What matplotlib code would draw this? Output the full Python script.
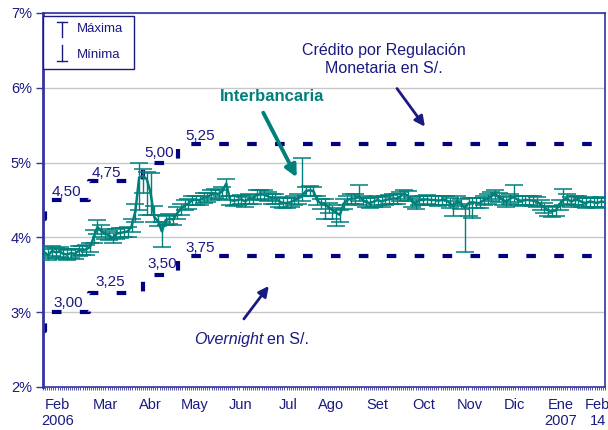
import numpy as np
import matplotlib
matplotlib.use("Agg")
import matplotlib.pyplot as plt
from matplotlib.ticker import MultipleLocator

plt.rcParams["font.family"] = ["Liberation Sans", "DejaVu Sans"]

NAVY = "#1a1a80"
SPINE = "#3434a0"
TEAL = "#00807a"

# dias desde el 1 feb 2006 (eje calendario hasta el 14 feb 2007)
END_DAY = 378

# tasa interbancaria: 12 lecturas por mes (feb 2006 - ene 2007) + 5 en feb 2007
interbank = [
    3.80, 3.76, 3.82, 3.80, 3.81, 3.78, 3.77, 3.79, 3.78, 3.82, 3.83, 3.84,  # feb
    3.87, 4.00, 4.14, 4.08, 4.05, 4.03, 3.99, 4.05, 4.06, 4.07, 4.08, 4.15,  # mar
    4.35, 4.80, 4.82, 4.78, 4.60, 4.27, 4.22, 4.08, 4.23, 4.25, 4.24, 4.32,  # abr
    4.38, 4.43, 4.45, 4.50, 4.50, 4.50, 4.53, 4.54, 4.57, 4.59, 4.58, 4.62,  # may
    4.72, 4.50, 4.49, 4.50, 4.51, 4.48, 4.52, 4.51, 4.57, 4.58, 4.57, 4.55,  # jun
    4.52, 4.52, 4.48, 4.46, 4.46, 4.47, 4.50, 4.52, 4.55, 4.62, 4.63, 4.62,  # jul
    4.50, 4.45, 4.45, 4.40, 4.37, 4.33, 4.30, 4.45, 4.50, 4.52, 4.52, 4.55,  # ago
    4.50, 4.47, 4.46, 4.48, 4.50, 4.48, 4.50, 4.51, 4.52, 4.52, 4.55, 4.58,  # set
    4.56, 4.48, 4.45, 4.50, 4.50, 4.51, 4.50, 4.50, 4.49, 4.50, 4.50, 4.46,  # oct
    4.42, 4.49, 4.45, 4.39, 4.46, 4.47, 4.46, 4.46, 4.50, 4.52, 4.55, 4.58,  # nov
    4.54, 4.50, 4.48, 4.52, 4.54, 4.50, 4.49, 4.50, 4.50, 4.49, 4.48, 4.44,  # dic
    4.40, 4.36, 4.35, 4.36, 4.44, 4.50, 4.52, 4.48, 4.50, 4.50, 4.47, 4.46,  # ene
    4.48, 4.47, 4.46, 4.48, 4.47,                                            # feb
]
maxima = [
    3.87, 3.84, 3.88, 3.86, 3.87, 3.84, 3.83, 3.85, 3.85, 3.88, 3.89, 3.90,
    3.92, 4.10, 4.23, 4.16, 4.11, 4.09, 4.06, 4.11, 4.12, 4.13, 4.14, 4.25,
    4.45, 5.00, 4.92, 4.88, 4.86, 4.42, 4.30, 4.20, 4.29, 4.31, 4.30, 4.40,
    4.45, 4.50, 4.51, 4.56, 4.56, 4.56, 4.59, 4.60, 4.63, 4.65, 4.64, 4.68,
    4.78, 4.56, 4.55, 4.56, 4.57, 4.54, 4.58, 4.57, 4.63, 4.64, 4.63, 4.61,
    4.58, 4.58, 4.54, 4.52, 4.52, 4.53, 4.56, 4.58, 5.06, 4.68, 4.69, 4.68,
    4.56, 4.51, 4.51, 4.46, 4.43, 4.39, 4.36, 4.51, 4.56, 4.58, 4.58, 4.70,
    4.56, 4.53, 4.52, 4.54, 4.56, 4.54, 4.56, 4.57, 4.58, 4.58, 4.61, 4.64,
    4.62, 4.54, 4.51, 4.56, 4.56, 4.57, 4.56, 4.56, 4.55, 4.56, 4.56, 4.52,
    4.48, 4.55, 4.51, 4.45, 4.52, 4.53, 4.52, 4.52, 4.56, 4.58, 4.61, 4.64,
    4.60, 4.56, 4.54, 4.58, 4.70, 4.56, 4.55, 4.56, 4.56, 4.55, 4.54, 4.50,
    4.46, 4.42, 4.41, 4.42, 4.50, 4.65, 4.58, 4.54, 4.56, 4.56, 4.53, 4.52,
    4.54, 4.53, 4.52, 4.54, 4.53,
]
minima = [
    3.72, 3.70, 3.75, 3.73, 3.74, 3.71, 3.70, 3.72, 3.71, 3.75, 3.76, 3.77,
    3.80, 3.92, 4.05, 4.01, 3.98, 3.96, 3.92, 3.98, 3.99, 4.00, 4.01, 4.07,
    4.20, 4.37, 4.60, 4.30, 4.30, 4.20, 4.15, 3.87, 4.16, 4.18, 4.17, 4.24,
    4.30, 4.36, 4.38, 4.43, 4.43, 4.43, 4.46, 4.47, 4.50, 4.52, 4.51, 4.55,
    4.50, 4.43, 4.42, 4.43, 4.44, 4.41, 4.45, 4.44, 4.50, 4.51, 4.50, 4.48,
    4.45, 4.45, 4.41, 4.39, 4.39, 4.40, 4.43, 4.45, 4.48, 4.55, 4.56, 4.55,
    4.43, 4.38, 4.25, 4.33, 4.25, 4.15, 4.20, 4.38, 4.43, 4.45, 4.45, 4.48,
    4.43, 4.40, 4.39, 4.41, 4.43, 4.41, 4.43, 4.44, 4.45, 4.45, 4.48, 4.51,
    4.49, 4.41, 4.38, 4.43, 4.43, 4.44, 4.43, 4.43, 4.42, 4.43, 4.43, 4.39,
    4.28, 4.42, 4.38, 3.80, 4.28, 4.26, 4.39, 4.39, 4.43, 4.45, 4.48, 4.51,
    4.47, 4.43, 4.41, 4.45, 4.47, 4.43, 4.42, 4.43, 4.43, 4.42, 4.41, 4.37,
    4.33, 4.29, 4.27, 4.29, 4.37, 4.43, 4.45, 4.41, 4.43, 4.43, 4.40, 4.39,
    4.41, 4.40, 4.39, 4.41, 4.40,
]

# corredor de tasas del BCRP (escalones)
step_days = [0, 1.5, 31, 67, 91, END_DAY]
credito = [4.25, 4.50, 4.75, 5.00, 5.25, 5.25]
overnight = [2.75, 3.00, 3.25, 3.50, 3.75, 3.75]
credito_lbl = ["4,50", "4,75", "5,00", "5,25"]
overnight_lbl = ["3,00", "3,25", "3,50", "3,75"]
credito_lbl_pos = [(6, 4.61), (33, 4.86), (68, 5.13), (95.5, 5.36)]
overnight_lbl_pos = [(7, 3.12), (35, 3.40), (70, 3.64), (95.5, 3.86)]

month_pos = [10, 41.7, 72, 102, 133, 165, 194, 225, 256, 287, 317, 348, 373]
month_lbl = ["Feb\n2006", "Mar", "Abr", "May", "Jun", "Jul", "Ago", "Set",
             "Oct", "Nov", "Dic", "Ene\n2007", "Feb\n14"]

fig = plt.figure(figsize=(6.08, 4.30), dpi=100)
ax = fig.add_axes([0.0707, 0.10, 0.9243, 0.8698])

x = np.linspace(1, END_DAY, len(interbank))
iv = np.array(interbank)
err = [iv - np.array(minima), np.array(maxima) - iv]
ax.errorbar(x, iv, yerr=err, color=TEAL, ecolor=TEAL, elinewidth=1.0,
            capsize=6.5, capthick=1.1, lw=1.8, zorder=3)

dash = dict(color="#000080", lw=3.0, linestyle=(0, (2.3, 4.4)),
            drawstyle="steps-post", zorder=2)
ax.plot(step_days, credito, **dash)
ax.plot(step_days, overnight, **dash)
for (px, py), t in zip(credito_lbl_pos + overnight_lbl_pos, credito_lbl + overnight_lbl):
    ax.text(px, py, t, color=NAVY, fontsize=11, ha="left", va="center")

# anotaciones
ax.text(229, 6.38, "Crédito por Regulación\nMonetaria en S/.", color=NAVY,
        fontsize=11.5, ha="center", va="center", linespacing=1.3)
ax.annotate("", xy=(258, 5.45), xytext=(237, 6.02),
            arrowprops=dict(arrowstyle="-|>,head_length=0.6,head_width=0.3",
                            color=NAVY, lw=2.0))
ax.text(154, 5.88, "Interbancaria", color=TEAL, fontsize=12,
        fontweight="bold", ha="center", va="center")
ax.annotate("", xy=(171.5, 4.77), xytext=(147.3, 5.70),
            arrowprops=dict(arrowstyle="-|>,head_length=0.7,head_width=0.35",
                            color=TEAL, lw=2.8))
ax.text(148, 2.63, "Overnight", color=NAVY, fontsize=11.5, style="italic",
        ha="right", va="center")
ax.text(150.6, 2.63, "en S/.", color=NAVY, fontsize=11.5, ha="left", va="center")
ax.annotate("", xy=(153, 3.38), xytext=(134, 2.88),
            arrowprops=dict(arrowstyle="-|>,head_length=0.6,head_width=0.3",
                            color=NAVY, lw=2.0))

# leyenda dibujada a mano
T = ax.transAxes
ax.add_patch(plt.Rectangle((0.0, 0.850), 0.162, 0.142, transform=T, fill=True,
                           facecolor="white", edgecolor=NAVY, lw=1.0, zorder=5))
ax.plot([0.0338, 0.0338], [0.936, 0.976], transform=T, color=NAVY, lw=1, zorder=6)
ax.plot([0.0245, 0.0431], [0.976, 0.976], transform=T, color=NAVY, lw=1, zorder=6)
ax.plot([0.0338, 0.0338], [0.872, 0.914], transform=T, color=NAVY, lw=1, zorder=6)
ax.plot([0.0245, 0.0431], [0.872, 0.872], transform=T, color=NAVY, lw=1, zorder=6)
ax.text(0.0605, 0.957, "Máxima", transform=T, color=NAVY, fontsize=9.5,
        va="center", zorder=6)
ax.text(0.0605, 0.888, "Mínima", transform=T, color=NAVY, fontsize=9.5,
        va="center", zorder=6)

ax.set_xlim(0, END_DAY)
ax.set_ylim(2, 7)
ax.set_yticks([2, 3, 4, 5, 6, 7])
ax.set_yticklabels([f"{v}%" for v in range(2, 8)])
ax.yaxis.grid(True, color="#c8c8c8", lw=1.0)
ax.set_axisbelow(True)
ax.set_xticks(month_pos)
ax.set_xticklabels(month_lbl, linespacing=1.15)
ax.xaxis.set_minor_locator(MultipleLocator(1.4))
ax.tick_params(axis="x", which="major", length=0, pad=8, colors=NAVY, labelsize=10.5)
ax.tick_params(axis="x", which="minor", length=2, width=0.6, color=SPINE)
ax.tick_params(axis="y", length=5, width=1, color=SPINE, labelcolor=NAVY,
               labelsize=10.5, pad=3)
for s in ax.spines.values():
    s.set_color(SPINE)
    s.set_linewidth(1.2)
ax.spines["left"].set_linewidth(2.0)

fig.savefig("out.png", dpi=100, facecolor="white")
